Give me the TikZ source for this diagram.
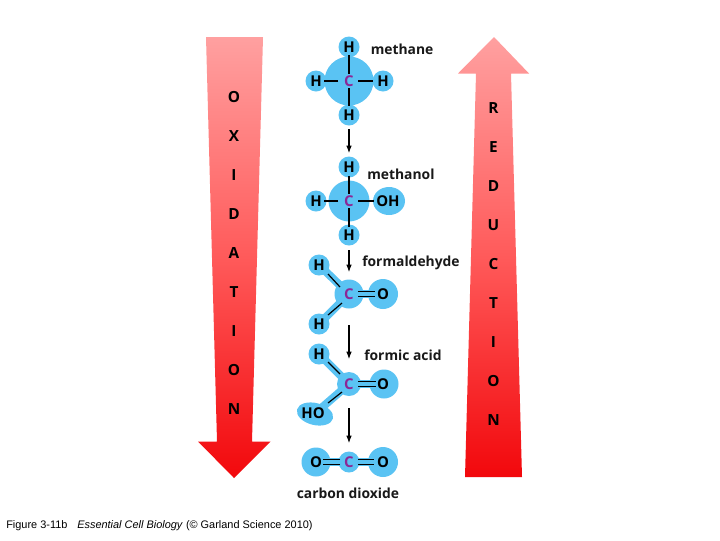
\documentclass[tikz,border=0pt]{standalone}
\usepackage{fontspec}
\setmainfont{Liberation Sans}
\newfontfamily\labfont{Open Sans}
\usetikzlibrary{calc,arrows.meta}
\definecolor{atomblue}{RGB}{90,195,243}
\definecolor{carbon}{RGB}{140,40,150}
\definecolor{arrowtop}{RGB}{255,160,160}
\definecolor{arrowmid}{RGB}{255,90,90}
\definecolor{arrowbot}{RGB}{242,8,12}
\tikzset{x=0.75pt,y=-0.75pt,
  atomtext/.style={font=\labfont\bfseries\fontsize{11.2}{12}\selectfont,text=black,inner sep=0pt},
  ctext/.style={font=\labfont\bfseries\fontsize{11.2}{12}\selectfont,text=carbon,inner sep=0pt},
  lab/.style={font=\labfont\bfseries\fontsize{10.4}{12}\selectfont,text=black!90,inner sep=0pt},
  vert/.style={font=\labfont\bfseries\fontsize{11.5}{12}\selectfont,text=black,inner sep=0pt},
  bond/.style={line width=0.9pt,black},
  reaction/.style={line width=0.8pt,black,-{Latex[length=5.5pt,width=4.2pt]}},
  ball/.style={fill=atomblue,draw=none},
  band/.style={atomblue,line width=6pt}}
\begin{document}
\begin{tikzpicture}
\useasboundingbox (0,0) rectangle (720,540);
\fill[white] (0,0) rectangle (720,540);
% big arrows
\shade[top color=arrowtop,bottom color=arrowbot,middle color=arrowmid]
  (206,37) -- (263,37) -- (252,441.5) -- (270.5,441.5) -- (234,478) -- (198,441.5) -- (217,441.5) -- cycle;
\shade[top color=arrowtop,bottom color=arrowbot,middle color=arrowmid]
  (494,37) -- (529,73.5) -- (511,73.5) -- (522,477) -- (465,477) -- (476,73.5) -- (458,73.5) -- cycle;
% vertical words
\foreach \ch/\yy [count=\i] in {O/97,X/136,I/175,D/214,A/253,T/292,I/331,O/370,N/409}
  \node[vert] (ox\i) at (234,\yy) {\ch};
\foreach \ch/\yy [count=\i] in {R/108,E/147,D/186,U/225,C/264,T/303,I/342,O/381,N/420}
  \node[vert] (re\i) at (493.5,\yy) {\ch};
% methane
\fill[ball] (349,81) circle (24.5);
\fill[ball] (349,47) circle (10.5) (349,115) circle (10.5) (316,81) circle (10.5) (383,81) circle (10.5);
\node[ctext] (c1) at (349,81) {C};
\node[atomtext] (h1a) at (349,47) {H};
\node[atomtext] (h1b) at (349,115) {H};
\node[atomtext] (h1c) at (316,81) {H};
\node[atomtext] (h1d) at (383,81) {H};
\draw[bond] ($(c1)+(0,-7)$) -- ($(h1a)+(0,8)$);
\draw[bond] ($(c1)+(0,7)$) -- ($(h1b)+(0,-9)$);
\draw[bond] ($(c1)+(-11,0)$) -- ($(h1c)+(8,0)$);
\draw[bond] ($(c1)+(9,0)$) -- ($(h1d)+(-10,0)$);
\node[lab,anchor=west] (n1) at (370.5,49) {methane};
% methanol
\fill[ball] (349,201) circle (20.5);
\fill[ball] (349,167) circle (10.5) (349,235) circle (10.5) (316,201) circle (10.5) (389,201) ellipse (16 and 14);
\node[ctext] (c2) at (349,201) {C};
\node[atomtext] (h2a) at (349,167) {H};
\node[atomtext] (h2b) at (349,235) {H};
\node[atomtext] (h2c) at (316,201) {H};
\node[atomtext] (oh2) at (388,201) {OH};
\draw[bond] ($(c2)+(0,-7)$) -- ($(h2a)+(0,9)$);
\draw[bond] ($(c2)+(0,7)$) -- ($(h2b)+(0,-8)$);
\draw[bond] ($(c2)+(-11,0)$) -- ($(h2c)+(8,0)$);
\draw[bond] ($(c2)+(9,0)$) -- ($(oh2)+(-14,0)$);
\node[lab,anchor=west] (n2) at (367,174) {methanol};
% formaldehyde
\draw[band] (319,265) -- (349,294) -- (319,324);
\fill[ball] (349,294) circle (14.5) (383,294) circle (15);
\fill[ball] (319,265) circle (10.5) (319,324) circle (10.5);
\draw[band] (349,294) -- (383,294);
\node[ctext] (c3) at (349,294) {C};
\node[atomtext] (o3) at (383,294) {O};
\node[atomtext] (h3a) at (319,265) {H};
\node[atomtext] (h3b) at (319,324) {H};
\draw[bond] ($(c3)+(-9,-7)$) -- ($(h3a)+(9,9)$);
\draw[bond] ($(c3)+(-7,9)$) -- ($(h3b)+(9,-9)$);
\draw[bond] ($(c3)+(9,-2.5)$) -- ($(o3)+(-8,-2.5)$);
\draw[bond] ($(c3)+(9,2.5)$) -- ($(o3)+(-8,2.5)$);
\node[lab,anchor=west] (n3) at (362,263) {formaldehyde};
% formic acid
\draw[band] (319,354) -- (349,384) -- (319,410);
\fill[ball] (349,384) circle (12) (384,384) circle (14.5);
\fill[ball] (319,354) circle (10.5);
\fill[ball,rotate around={-14:(315,414)}] (315,414) ellipse (18.5 and 11);
\draw[band] (349,384) -- (384,384);
\node[ctext] (c4) at (349,384) {C};
\node[atomtext] (o4) at (383,384) {O};
\node[atomtext] (h4) at (319,354) {H};
\node[atomtext] (ho4) at (313,413) {HO};
\draw[bond] ($(c4)+(-9,-10)$) -- ($(h4)+(9,8)$);
\draw[bond] ($(c4)+(-7,8)$) -- ($(ho4)+(15,-10)$);
\draw[bond] ($(c4)+(9,-2.5)$) -- ($(o4)+(-7,-2.5)$);
\draw[bond] ($(c4)+(9,2.5)$) -- ($(o4)+(-7,2.5)$);
\node[lab,anchor=west] (n4) at (364,355) {formic acid};
% carbon dioxide
\draw[atomblue,line width=6pt] (316,462) -- (383,462);
\fill[ball] (316,462) circle (14.5) (349,462) circle (10.5) (383,462) circle (15);
\node[ctext] (c5) at (349,462) {C};
\node[atomtext] (o5a) at (316,462) {O};
\node[atomtext] (o5b) at (383,462) {O};
\draw[bond] ($(c5)+(-9,-2.5)$) -- ($(o5a)+(7,-2.5)$);
\draw[bond] ($(c5)+(-9,2.5)$) -- ($(o5a)+(7,2.5)$);
\draw[bond] ($(c5)+(9,-2.5)$) -- ($(o5b)+(-9,-2.5)$);
\draw[bond] ($(c5)+(9,2.5)$) -- ($(o5b)+(-9,2.5)$);
\node[lab,anchor=west] (n5) at (296.5,493) {carbon dioxide};
% reaction arrows
\draw[reaction] ($(h1b)+(0,14)$) -- ($(h2a)+(0,-14)$);
\draw[reaction] ($(h2b)+(0,15)$) -- ($(c3)+(0,-22)$);
\draw[reaction] ($(c3)+(0,31)$) -- ($(c4)+(0,-25)$);
\draw[reaction] ($(c4)+(0,24)$) -- ($(c5)+(0,-19)$);
% caption
\node[font=\fontsize{8.2}{10}\selectfont,anchor=west,inner sep=0pt,text=black] (cap) at (6,526) {Figure 3-11b\hspace{0.9em}\textit{Essential Cell Biology} (© Garland Science 2010)};
\end{tikzpicture}
\end{document}
